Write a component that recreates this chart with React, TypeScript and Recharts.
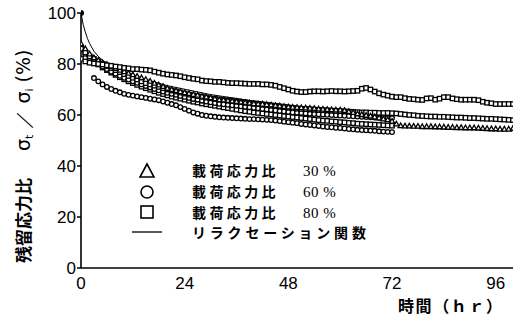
import { ScatterChart, Scatter, XAxis, YAxis, Legend } from 'recharts';

// residual stress ratio (%) sampled every hour from t = 0 hr
const sq80a = [
  82, 81, 80.5, 80.2, 80, 79.8, 79.5, 79.3, 79, 78.8,
  78.5, 78.3, 78, 78, 77.8, 77.7, 77.5, 77, 76.6, 76.2,
  75.9, 75.7, 75.5, 75.2, 74.8, 74.5, 74.2, 74, 73.5, 73.3,
  73.2, 73, 73, 72.8, 72.6, 72.5, 72.5, 72.4, 72.3, 72.2,
  72.2, 72.2, 72, 72, 71.8, 71.5, 71, 70.5, 70, 69.5,
  69.2, 69, 69, 69.2, 69.3, 69.3, 69.2, 69.3, 69.4, 69.3,
  69.3, 69.2, 69.3, 69.4, 69.5, 70.3, 70.6, 70, 69.2, 68.5,
  68, 67.6, 67.2, 67, 67, 66.6, 66.3, 66.2, 66, 65.9,
  66.5, 66.6, 66, 66.4, 67, 67, 66.5, 66.2, 66, 66,
  66, 66, 65.8, 65.2, 64.8, 64.6, 64.3, 64.3, 64.3, 64.3, 64.3,
];

const sq80b = [
  86, 84.5, 83, 82, 81, 80, 79.2, 78.4, 77.6, 76.8,
  76, 75.3, 74.6, 73.9, 73.2, 72.5, 72, 71.5, 71, 70.5,
  70, 69.6, 69.2, 68.8, 68.4, 68, 67.7, 67.4, 67.1, 66.8,
  66.5, 66.3, 66.1, 65.9, 65.7, 65.5, 65.3, 65.1, 64.9, 64.7,
  64.5, 64.3, 64.1, 63.9, 63.7, 63.5, 63.3, 63.1, 62.9, 62.7,
  62.5, 62.4, 62.3, 62.2, 62.1, 62, 61.9, 61.8, 61.7, 61.6,
  61.5, 61.4, 61.3, 61.2, 61.1, 61, 61, 60.9, 60.9, 60.8,
  60.8, 60.8, 60.7, 60.6, 60.4, 60.2, 60, 59.9, 59.7, 59.6,
  59.5, 59.4, 59.4, 59.3, 59.3, 59.2, 59.1, 59, 59, 58.9,
  58.8, 58.8, 58.7, 58.6, 58.5, 58.5, 58.4, 58.3, 58.2, 58.1, 58,
];

const tri30a = [
  88, 86, 84, 82.5, 81.5, 80.5, 79.8, 79, 78.3, 77.6,
  77, 76.4, 75.8, 75.2, 74.6, 74, 73.3, 72.5, 71.8, 71.2,
  70.5, 70, 69.6, 69.2, 68.8, 68.5, 68.1, 67.8, 67.4, 67.1,
  66.8, 66.4, 66, 65.9, 65.7, 65.5, 65.3, 65.1, 64.9, 64.7,
  64.5, 64.4, 64.3, 64.1, 64, 63.8, 63.6, 63.4, 63.2, 63.1,
  63, 62.9, 62.8, 62.7, 62.6, 62.4, 62.3, 62.2, 62.1, 62,
  62, 61.8, 61.4, 61, 60.5, 60.2, 59.9, 59.6, 59.3, 58.9,
  58.5, 58.2, 57.6, 56.5, 55.8, 55.7, 55.7, 55.6, 55.6, 55.5,
  55.5, 55.5, 55.4, 55.4, 55.3, 55.2, 55.2, 55.1, 55.1, 55,
  55, 55, 54.9, 54.8, 54.7, 54.6, 54.6, 54.5, 54.5, 54.5, 54.8,
];

const tri30b = [
  87, 85, 83, 81.5, 80.2, 79, 78, 77, 76.2, 75.4,
  74.6, 73.9, 73.2, 72.6, 72, 71.4, 70.8, 70.2, 69.7, 69.2,
  68.7, 68.3, 67.9, 67.5, 67.1, 66.7, 66.3, 66, 65.6, 65.3,
  65, 64.7, 64.4, 64.2, 64, 63.8, 63.6, 63.4, 63.2, 63,
  62.8, 62.6, 62.4, 62.2, 62, 61.8, 61.6, 61.4, 61.2, 61,
  60.9, 60.8, 60.6, 60.5, 60.4, 60.3, 60.2, 60.1, 60, 59.9,
  59.8, 59.7, 59.6, 59.5, 59.4, 59.3, 59.2, 59.1, 59, 58.9,
  58.9, 58.8, 58.8,
];

const ci60a = [
  86, 84, 82.3, 81, 79.8, 78.6, 77.6, 76.6, 75.7, 74.8,
  74, 73.2, 72.5, 71.8, 71.1, 70.5, 69.9, 69.3, 68.7, 68.2,
  67.7, 67.2, 66.8, 66.4, 66, 65.6, 65.2, 64.9, 64.5, 64.2,
  63.9, 63.6, 63.3, 63, 62.7, 62.4, 62.1, 61.8, 61.5, 61.3,
  61, 60.8, 60.6, 60.4, 60.2, 60, 59.8, 59.6, 59.4, 59.2,
  59, 58.8, 58.6, 58.4, 58.2, 58, 57.8, 57.7, 57.5, 57.4,
  57.2, 57.1, 56.9, 56.8, 56.6, 56.5, 56.4, 56.3, 56.2, 56.1,
  56, 55.9, 55.8,
];

const ci60b = [
  null, null, null, 74.5, 73.2, 72, 71, 70.2, 69.5, 68.9,
  68.3, 67.9, 67.6, 67.3, 67, 66.7, 66.4, 66.1, 65.8, 65.3,
  64.8, 64.3, 63.8, 63.1, 62.4, 61.7, 61, 60.5, 60, 59.7,
  59.5, 59.3, 59.1, 59, 58.9, 58.8, 58.7, 58.6, 58.5, 58.4,
  58.4, 58.3, 58.2, 58.1, 58, 57.8, 57.6, 57.4, 57.2, 57,
  56.8, 56.5, 56.3, 56.1, 55.9, 55.7, 55.5, 55.3, 55.2, 55,
  54.9, 54.7, 54.5, 54.4, 54.2, 54.1, 54, 53.9, 53.8, 53.6,
  53.5, 53.4, 53.3,
];

// relaxation function
const relaxHours = [0, 0.5, 1, 1.5, 2, 3, 4, 5, 6, 8, 10, 14, 20, 30, 40, 50, 60, 72, 84, 96, 100];
const relaxValues = [100, 95.5, 92.5, 90, 88, 85, 83, 81.5, 80.3, 78.5, 77, 74.5, 71.5, 68, 65.5, 63.5, 62, 60.3, 59, 58, 57.7];

const xTicks = [0, 24, 48, 72, 96];
const yTicks = [0, 20, 40, 60, 80, 100];
const ratios = ['30 %', '60 %', '80 %'];

const toPoints = (vals: (number | null)[]) =>
  vals.map((v, i) => ({ t: i, v })).filter((d) => d.v != null);

const relax = relaxHours.map((t, i) => ({ t, v: relaxValues[i] }));
const origin = [{ t: relaxHours[0], v: relaxValues[0] }];

const Square = (p: any) => (
  <rect x={p.cx - 2.2} y={p.cy - 2.2} width={4.4} height={4.4} fill="#fff" stroke="#000" strokeWidth={1.3} />
);
const Circle = (p: any) => <circle cx={p.cx} cy={p.cy} r={2.3} fill="#fff" stroke="#000" strokeWidth={1.3} />;
const Triangle = (p: any) => (
  <path d={`M${p.cx - 2.6},${p.cy + 2} L${p.cx + 2.6},${p.cy + 2} L${p.cx},${p.cy - 2.6} Z`} fill="#fff" stroke="#000" strokeWidth={1.3} />
);
const Dot = (p: any) => <circle cx={p.cx} cy={p.cy} r={3} fill="#000" />;
const NoMark = () => <g />;

const jp = '"Noto Sans CJK JP", sans-serif';

// legend svg sits at (120, 150); rows centred at y = 170, 191, 212, 232 on the page
const LegendBox = () => (
  <svg width={270} height={100} style={{ display: 'block' }}>
    <path d="M20,27 L34,27 L27,14 Z" fill="none" stroke="#000" strokeWidth={1.6} />
    <circle cx={27} cy={42} r={6} fill="none" stroke="#000" strokeWidth={1.6} />
    <rect x={21} y={56} width={12} height={12} fill="none" stroke="#000" strokeWidth={1.6} />
    <line x1={12} y1={82} x2={42} y2={82} stroke="#000" strokeWidth={1.3} />
    {ratios.map((r, i) => (
      <g key={r}>
        <text x={72} y={26 + i * 21} fontFamily={jp} fontWeight="bold" fontSize={14} letterSpacing={3.4} fill="#000">載荷応力比</text>
        <text x={183} y={26 + i * 21} fontFamily='"Liberation Serif", serif' fontSize={15} letterSpacing={0.5} fill="#000">{r}</text>
      </g>
    ))}
    <text x={72} y={88} fontFamily={jp} fontWeight="bold" fontSize={14} letterSpacing={3.8} fill="#000">リラクセーション関数</text>
  </svg>
);

const YTitle = () => (
  <g>
    <text x={30} y={263} transform="rotate(-90 30 263)" fontFamily={jp} fontWeight="bold" fontSize={17} fill="#000">
      残留応力比
    </text>
    <text x={30} y={151} transform="rotate(-90 30 151)" fontFamily='"DejaVu Sans", sans-serif' fontSize={19} fill="#000">
      σ<tspan fontSize={11} dy={3}>t</tspan>
      <tspan dy={-3}> ／ σ</tspan>
      <tspan fontSize={11} dy={3}>i</tspan>
      <tspan dy={-3}> (%)</tspan>
    </text>
  </g>
);

export default function App() {
  const tickStyle = { fill: '#000', fontSize: 17, fontFamily: '"Liberation Sans", Arial, sans-serif' };
  return (
    <div style={{ position: 'absolute', left: 0, top: 0, background: '#fff' }}>
      <ScatterChart width={521} height={320} margin={{ top: 13, right: 8, bottom: 22, left: 0 }}>
        <XAxis
          type="number"
          dataKey="t"
          domain={[0, 100]}
          ticks={xTicks}
          tick={tickStyle}
          tickLine={false}
          tickMargin={3}
          axisLine={{ stroke: '#000', strokeWidth: 1.6 }}
          height={30}
          allowDataOverflow
        />
        <YAxis
          type="number"
          dataKey="v"
          domain={[0, 100]}
          ticks={yTicks}
          tick={tickStyle}
          tickSize={4}
          tickMargin={1}
          tickLine={{ stroke: '#000', strokeWidth: 1.5 }}
          axisLine={{ stroke: '#000', strokeWidth: 1.6 }}
          width={81}
          label={<YTitle />}
        />
        <Legend
          layout="vertical"
          align="center"
          verticalAlign="middle"
          wrapperStyle={{ left: 120, top: 150, width: 270, height: 100 }}
          content={() => <LegendBox />}
        />
        <Scatter data={relax} line={{ stroke: '#000', strokeWidth: 1 }} lineType="joint" shape={NoMark} isAnimationActive={false} legendType="none" />
        <Scatter data={toPoints(ci60b)} shape={Circle} isAnimationActive={false} />
        <Scatter data={toPoints(ci60a)} shape={Square} isAnimationActive={false} />
        <Scatter data={toPoints(tri30b)} shape={Circle} isAnimationActive={false} />
        <Scatter data={toPoints(sq80b)} shape={Square} isAnimationActive={false} />
        <Scatter data={toPoints(tri30a)} shape={Triangle} isAnimationActive={false} />
        <Scatter data={toPoints(sq80a)} shape={Square} isAnimationActive={false} />
        <Scatter data={origin} shape={Dot} isAnimationActive={false} />
        <text x={398} y={312} fontFamily={jp} fontWeight="bold" fontSize={16} letterSpacing={1.6} fill="#000">
          時間（ｈｒ）
        </text>
      </ScatterChart>
    </div>
  );
}
